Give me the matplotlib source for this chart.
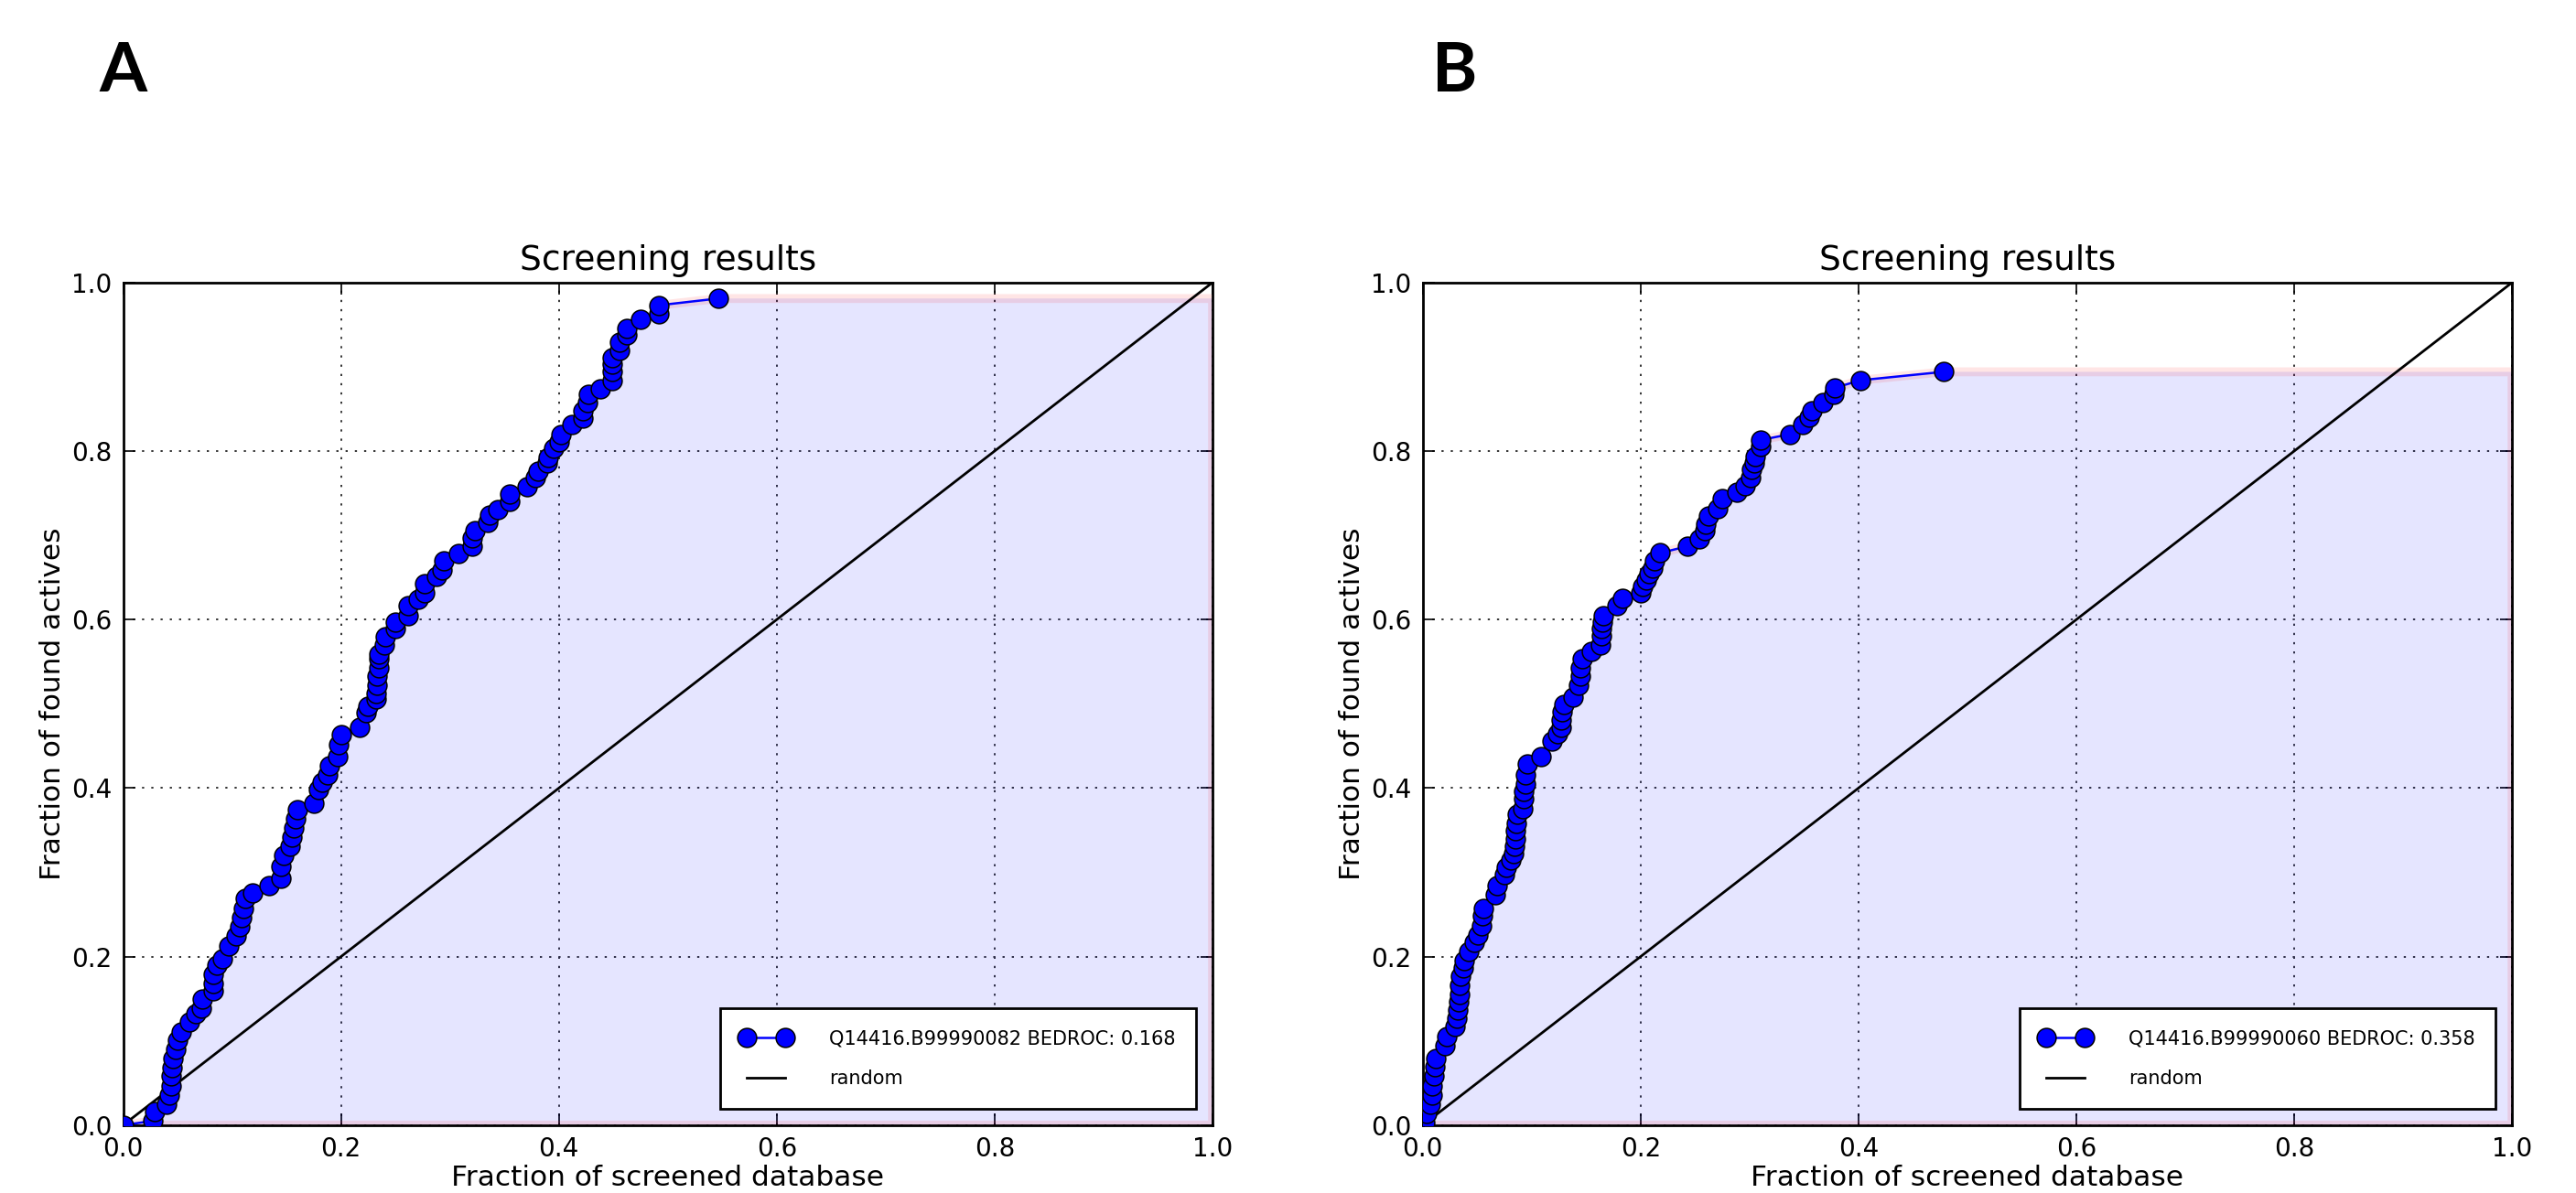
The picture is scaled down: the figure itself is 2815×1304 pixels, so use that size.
import matplotlib
matplotlib.use("Agg")
import matplotlib.pyplot as plt

# panel A: Q14416.B99990082
xa = [0.000, 0.027, 0.029, 0.040, 0.042, 0.044, 0.044, 0.045, 0.046, 0.048,
      0.050, 0.053, 0.061, 0.067, 0.072, 0.073, 0.083, 0.083, 0.083, 0.086,
      0.091, 0.097, 0.104, 0.107, 0.109, 0.110, 0.112, 0.119, 0.134, 0.145,
      0.145, 0.147, 0.153, 0.155, 0.157, 0.158, 0.160, 0.175, 0.179, 0.183,
      0.188, 0.189, 0.197, 0.198, 0.200, 0.217, 0.223, 0.225, 0.232, 0.232,
      0.233, 0.233, 0.235, 0.235, 0.235, 0.240, 0.241, 0.250, 0.250, 0.262,
      0.262, 0.271, 0.277, 0.277, 0.288, 0.293, 0.294, 0.308, 0.320, 0.320,
      0.323, 0.335, 0.336, 0.344, 0.355, 0.355, 0.371, 0.378, 0.381, 0.389,
      0.390, 0.395, 0.400, 0.402, 0.412, 0.422, 0.422, 0.426, 0.427, 0.438,
      0.449, 0.449, 0.449, 0.449, 0.456, 0.456, 0.462, 0.462, 0.475, 0.492,
      0.492, 0.546]
ya = [0.000, 0.005, 0.016, 0.025, 0.036, 0.047, 0.058, 0.068, 0.079, 0.090,
      0.101, 0.110, 0.123, 0.132, 0.139, 0.150, 0.159, 0.168, 0.179, 0.190,
      0.197, 0.213, 0.224, 0.235, 0.246, 0.257, 0.269, 0.276, 0.284, 0.293,
      0.307, 0.320, 0.331, 0.342, 0.353, 0.364, 0.374, 0.382, 0.398, 0.407,
      0.416, 0.427, 0.437, 0.452, 0.463, 0.472, 0.489, 0.497, 0.506, 0.512,
      0.522, 0.533, 0.543, 0.553, 0.559, 0.570, 0.580, 0.589, 0.597, 0.605,
      0.616, 0.624, 0.632, 0.643, 0.651, 0.659, 0.670, 0.678, 0.687, 0.697,
      0.706, 0.715, 0.724, 0.731, 0.740, 0.749, 0.758, 0.768, 0.776, 0.786,
      0.792, 0.803, 0.811, 0.819, 0.831, 0.839, 0.848, 0.857, 0.867, 0.874,
      0.884, 0.894, 0.903, 0.911, 0.919, 0.929, 0.938, 0.946, 0.956, 0.963,
      0.973, 0.981]

# panel B: Q14416.B99990060
xb = [0.000, 0.002, 0.004, 0.007, 0.009, 0.009, 0.010, 0.011, 0.012, 0.020,
      0.022, 0.030, 0.031, 0.032, 0.033, 0.034, 0.034, 0.035, 0.037, 0.038,
      0.042, 0.047, 0.051, 0.054, 0.055, 0.056, 0.067, 0.068, 0.075, 0.077,
      0.081, 0.083, 0.084, 0.085, 0.085, 0.086, 0.087, 0.092, 0.093, 0.093,
      0.094, 0.094, 0.096, 0.109, 0.119, 0.124, 0.127, 0.127, 0.128, 0.130,
      0.138, 0.143, 0.145, 0.145, 0.146, 0.155, 0.163, 0.164, 0.164, 0.165,
      0.166, 0.178, 0.183, 0.200, 0.202, 0.205, 0.208, 0.211, 0.213, 0.218,
      0.243, 0.254, 0.259, 0.260, 0.262, 0.271, 0.275, 0.288, 0.296, 0.301,
      0.302, 0.304, 0.305, 0.310, 0.310, 0.337, 0.349, 0.355, 0.357, 0.367,
      0.377, 0.378, 0.402, 0.478]
yb = [0.000, 0.003, 0.014, 0.025, 0.036, 0.047, 0.058, 0.069, 0.079, 0.094,
      0.105, 0.117, 0.127, 0.137, 0.146, 0.155, 0.166, 0.177, 0.186, 0.195,
      0.206, 0.217, 0.226, 0.237, 0.248, 0.257, 0.273, 0.284, 0.297, 0.306,
      0.315, 0.322, 0.331, 0.340, 0.349, 0.358, 0.369, 0.376, 0.387, 0.396,
      0.405, 0.416, 0.429, 0.437, 0.456, 0.464, 0.472, 0.481, 0.491, 0.499,
      0.508, 0.522, 0.533, 0.543, 0.553, 0.562, 0.570, 0.581, 0.589, 0.597,
      0.605, 0.617, 0.625, 0.632, 0.639, 0.647, 0.655, 0.661, 0.670, 0.679,
      0.687, 0.696, 0.705, 0.713, 0.723, 0.732, 0.743, 0.751, 0.759, 0.768,
      0.778, 0.786, 0.794, 0.805, 0.813, 0.820, 0.832, 0.840, 0.848, 0.857,
      0.867, 0.875, 0.884, 0.894]

panels = ["A", "B"]
labels = ["Q14416.B99990082 BEDROC: 0.168", "Q14416.B99990060 BEDROC: 0.358"]
ticks = [0.0, 0.2, 0.4, 0.6, 0.8, 1.0]

plt.rcParams['font.family'] = ['DejaVu Sans']

fig = plt.figure(figsize=(28.15, 13.04), dpi=100)
lefts = [0.0478, 0.5523]
letter_x = [0.0384, 0.5559]
datas = [(xa, ya), (xb, yb)]

for i in range(2):
	ax = fig.add_axes([lefts[i], 0.0569, 0.4229, 0.7063])
	x, y = datas[i]
	# area under the curve, carried on to x = 1
	fx = list(x) + [1.0, 1.0]
	fy = list(y) + [y[-1], 0.0]
	ax.fill(fx, fy, facecolor=(0, 0, 1, 0.1), edgecolor=(1, 0, 0, 0.1), linewidth=7, zorder=1)
	ax.plot(x, y, "o-", color="blue", lw=1.8, markersize=15, markerfacecolor="blue",
		markeredgecolor="black", markeredgewidth=1.1, label=labels[i], zorder=3)
	ax.plot([0, 1], [0, 1], "k-", lw=2, label="random", zorder=2)
	ax.set_xlim(0, 1)
	ax.set_ylim(0, 1)
	ax.set_xticks(ticks)
	ax.set_yticks(ticks)
	ax.grid(True, color="#333333", linestyle=(0, (1.2, 4)), linewidth=1.4)
	ax.set_axisbelow(True)
	ax.tick_params(direction="in", top=True, right=True, length=9.5, width=1.2,
		labelsize=20, pad=9)
	for s in ax.spines.values():
		s.set_linewidth(2)
	ax.set_title("Screening results", fontsize=27, pad=10)
	ax.set_xlabel("Fraction of screened database", fontsize=22.5, labelpad=2)
	ax.set_ylabel("Fraction of found actives", fontsize=22.5, labelpad=4)
	leg = ax.legend(loc="lower right", fontsize=15, numpoints=2, fancybox=False,
		framealpha=1, edgecolor="black", handlelength=2.6, handletextpad=2.0,
		borderpad=1.1, labelspacing=1.15, borderaxespad=0.85)
	leg.get_frame().set_linewidth(2)
	fig.text(letter_x[i], 0.940, panels[i],
		fontsize=54, fontweight="bold", family=["Lato", "DejaVu Sans"],
		ha="left", va="center")

fig.savefig("out.png", dpi=100, facecolor="white")
